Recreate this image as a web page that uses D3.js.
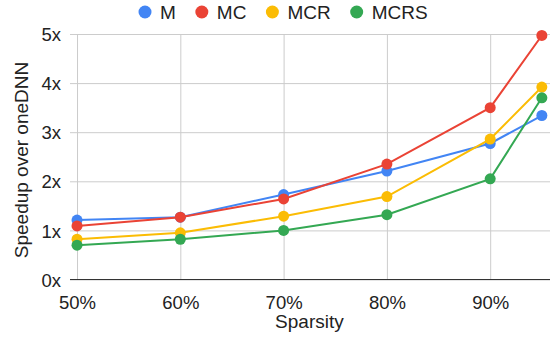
<!DOCTYPE html>
<html>
<head>
<meta charset="utf-8">
<script src="https://cdn.jsdelivr.net/npm/d3@7"></script>
<style>
  body { margin: 0; background: #fff; }
  svg { font-family: "Liberation Sans", Arial, sans-serif; }
</style>
</head>
<body>
<svg id="drawing_region"></svg>
<script>
const sparsity = [50, 60, 70, 80, 90, 95];
const seriesNames = ['M', 'MC', 'MCR', 'MCRS'];
const seriesColors = ['#4285F4', '#EA4335', '#FBBC04', '#34A853'];
const valuesM = [1.21, 1.27, 1.73, 2.21, 2.77, 3.34];
const valuesMC = [1.09, 1.27, 1.64, 2.35, 3.50, 4.97];
const valuesMCR = [0.82, 0.95, 1.29, 1.69, 2.86, 3.92];
const valuesMCRS = [0.70, 0.82, 1.00, 1.32, 2.05, 3.70];
const xTicks = [50, 60, 70, 80, 90];
const yTicks = [0, 1, 2, 3, 4, 5];

const allValues = [valuesM, valuesMC, valuesMCR, valuesMCRS];

const config = {
    width: 553,
    height: 339,
    margin: {top: 34, right: 3, bottom: 59.5, left: 70}
};

const svg = d3.select('#drawing_region')
    .attr('width', config.width)
    .attr('height', config.height);

const inner_width = config.width - config.margin.left - config.margin.right;
const inner_height = config.height - config.margin.top - config.margin.bottom;

const chart = svg.append('g')
    .attr('transform', `translate(${config.margin.left}, ${config.margin.top})`);

// x: 50% sits a little right of the plot's left edge
const xscale = d3.scaleLinear()
    .domain([49.32, 95.79])
    .range([0, inner_width]);

const yscale = d3.scaleLinear()
    .domain([0, 5])
    .range([inner_height, 0]);

// grid
const yaxis = d3.axisLeft(yscale)
    .tickValues(yTicks)
    .tickSize(-inner_width)
    .tickPadding(9)
    .tickFormat(d => d + 'x');

const xaxis = d3.axisBottom(xscale)
    .tickValues(xTicks)
    .tickSize(-inner_height)
    .tickPadding(16)
    .tickFormat(d => d + '%');

const yg = chart.append('g').call(yaxis);
yg.select('.domain').remove();
yg.selectAll('.tick line').attr('stroke', '#cccccc').attr('stroke-width', 1);
yg.selectAll('.tick text')
    .attr('fill', '#222')
    .style('font-size', '18.5px')
    .attr('dy', '0.36em');

const xg = chart.append('g')
    .attr('transform', `translate(0, ${inner_height})`)
    .call(xaxis);
xg.select('.domain').remove();
xg.selectAll('.tick line').attr('stroke', '#cccccc').attr('stroke-width', 1);
xg.selectAll('.tick text')
    .attr('fill', '#222')
    .style('font-size', '18.5px');

// baseline
chart.append('line')
    .attr('x1', 0).attr('x2', inner_width)
    .attr('y1', yscale(0)).attr('y2', yscale(0))
    .attr('stroke', '#333')
    .attr('stroke-width', 1.2);

// lines and points
const line = d3.line()
    .x((d, i) => xscale(sparsity[i]))
    .y(d => yscale(d));

allValues.forEach((vals, k) => {
    chart.append('path')
        .datum(vals)
        .attr('fill', 'none')
        .attr('stroke', seriesColors[k])
        .attr('stroke-width', 2)
        .attr('d', line);
    chart.selectAll('.pt' + k)
        .data(vals)
        .enter()
        .append('circle')
        .attr('class', 'pt' + k)
        .attr('cx', (d, i) => xscale(sparsity[i]))
        .attr('cy', d => yscale(d))
        .attr('r', 5.5)
        .attr('fill', seriesColors[k]);
});

// axis titles
svg.append('text')
    .attr('x', config.margin.left + xscale(72.5))
    .attr('y', 328)
    .attr('text-anchor', 'middle')
    .attr('fill', '#222')
    .style('font-size', '19px')
    .text('Sparsity');

svg.append('text')
    .attr('transform', 'rotate(-90)')
    .attr('x', -160)
    .attr('y', 28)
    .attr('text-anchor', 'middle')
    .attr('fill', '#222')
    .style('font-size', '19px')
    .text('Speedup over oneDNN');

// legend
const legend = svg.append('g');
let lx = 145;
seriesNames.forEach((name, k) => {
    legend.append('circle')
        .attr('cx', lx)
        .attr('cy', 12)
        .attr('r', 6.5)
        .attr('fill', seriesColors[k]);
    const t = legend.append('text')
        .attr('x', lx + 15)
        .attr('y', 19)
        .attr('fill', '#222')
        .style('font-size', '19px')
        .text(name);
    lx = lx + 15 + t.node().getComputedTextLength() + 26;
});
</script>
</body>
</html>
